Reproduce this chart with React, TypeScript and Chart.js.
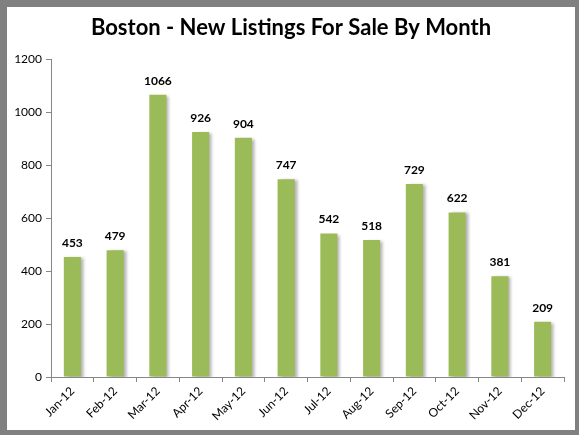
import { useEffect, useRef } from 'react';
import { Chart, registerables } from 'chart.js';

Chart.register(...registerables);

const months = ['Jan-12', 'Feb-12', 'Mar-12', 'Apr-12', 'May-12', 'Jun-12', 'Jul-12', 'Aug-12', 'Sep-12', 'Oct-12', 'Nov-12', 'Dec-12'];
const newListings = [453, 479, 1066, 926, 904, 747, 542, 518, 729, 622, 381, 209];

const FONT = 'Lato, "Open Sans", sans-serif';

// bar shadow + value labels above each bar
const barExtras = {
  id: 'barExtras',
  beforeDatasetDraw(chart: any) {
    const ctx = chart.ctx;
    ctx.save();
    ctx.shadowColor = 'rgba(0,0,0,0.3)';
    ctx.shadowBlur = 3;
    ctx.shadowOffsetX = 3;
    ctx.shadowOffsetY = 1;
  },
  afterDatasetDraw(chart: any) {
    const ctx = chart.ctx;
    ctx.restore();
    const meta = chart.getDatasetMeta(0);
    ctx.save();
    ctx.font = `bold 12px ${FONT}`;
    ctx.fillStyle = '#000';
    ctx.textAlign = 'center';
    ctx.textBaseline = 'middle';
    meta.data.forEach((bar: any, i: number) => {
      ctx.fillText(String(newListings[i]), bar.x, bar.y - 14);
    });
    ctx.restore();
  },
};

export default function App() {
  const canvasRef = useRef<HTMLCanvasElement>(null);
  const chartRef = useRef<Chart | null>(null);

  useEffect(() => {
    if (!canvasRef.current) return;
    if (chartRef.current) chartRef.current.destroy();

    const ctx = canvasRef.current.getContext('2d')!;

    chartRef.current = new Chart(ctx, {
      type: 'bar',
      data: {
        labels: months,
        datasets: [
          {
            data: newListings,
            backgroundColor: '#9BBB59',
            barPercentage: 0.8,
            categoryPercentage: 0.5,
          },
        ],
      },
      options: {
        animation: false,
        responsive: true,
        maintainAspectRatio: false,
        layout: { padding: 0 },
        plugins: {
          legend: { display: false },
          tooltip: { enabled: false },
          title: {
            display: true,
            text: 'Boston - New Listings For Sale By Month',
            color: '#000',
            font: { family: FONT, size: 22, weight: 'bold' },
            padding: { top: 8, bottom: 18 },
          },
        },
        scales: {
          x: {
            offset: true,
            grid: { drawOnChartArea: false, offset: true, tickLength: 5, color: '#868686' },
            border: { display: true, color: '#868686' },
            ticks: {
              color: '#000',
              font: { family: FONT, size: 12 },
              minRotation: 45,
              maxRotation: 45,
              padding: 2,
            },
            afterFit: (scale: any) => {
              scale.height = 53;
              scale.paddingRight = 11;
            },
          },
          y: {
            min: 0,
            max: 1200,
            grid: { drawOnChartArea: false, tickLength: 5, color: '#868686' },
            border: { display: true, color: '#868686' },
            ticks: {
              stepSize: 200,
              color: '#000',
              font: { family: FONT, size: 12 },
              padding: 4,
              callback: (v: any) => String(v),
            },
            afterFit: (scale: any) => {
              scale.width = 44;
            },
          },
        },
      },
      plugins: [barExtras],
    });

    return () => chartRef.current?.destroy();
  }, []);

  return (
    <div
      style={{
        position: 'absolute',
        left: 0,
        top: 0,
        width: 579,
        height: 435,
        boxSizing: 'border-box',
        borderStyle: 'solid',
        borderColor: '#808080',
        borderWidth: '7px 4px 5px 7px',
        background: '#fff',
      }}
    >
      <div style={{ position: 'relative', width: '100%', height: '100%' }}>
        <canvas ref={canvasRef} />
      </div>
    </div>
  );
}
